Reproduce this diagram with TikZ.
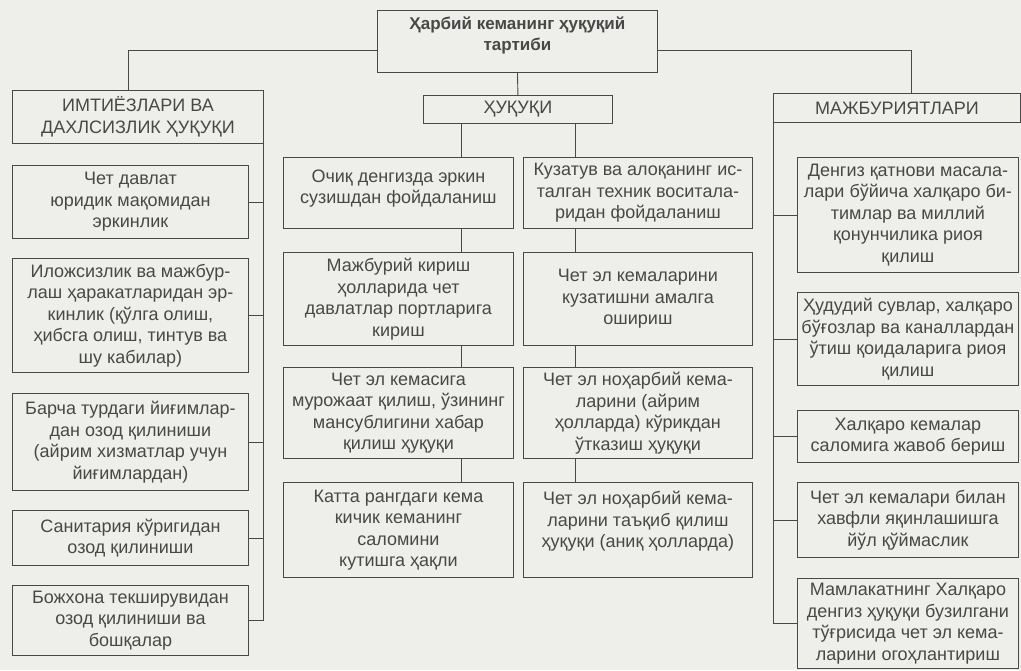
\documentclass[tikz,border=0pt]{standalone}
\usepackage{fontspec}
\setmainfont{Liberation Sans}
\usetikzlibrary{positioning}
\definecolor{inkgray}{RGB}{72,72,72}
\definecolor{paper}{RGB}{238,238,235}

\begin{document}
\begin{tikzpicture}[x=1pt, y=-1pt, line width=0.9pt, color=inkgray,
  every node/.style={font=\fontsize{18}{21.5}\selectfont},
  cell/.style 2 args={draw, align=center, anchor=north west, inner xsep=1pt, inner ysep=2pt,
    minimum width=#1pt, minimum height=#2pt}]
\fill[paper] (0,0) rectangle (1021,670);
\useasboundingbox (0,0) rectangle (1021,670);

% top of the tree
\node[cell={280}{62}, text depth=16pt, font=\fontsize{17}{21.5}\selectfont\bfseries] (title) at (377,10) {Ҳарбий кеманинг ҳуқуқий\\тартиби};
\node[cell={251}{53}] (imt) at (12,90) {ИМТИЁЗЛАРИ ВА\\ДАХЛСИЗЛИК ҲУҚУҚИ};
\node[cell={189}{28}] (hq) at (423,95) {ҲУҚУҚИ};
\node[cell={247}{29}] (maj) at (773,93) {МАЖБУРИЯТЛАРИ};

% left column
\node[cell={236}{73}] (l1) at (12,165) {Чет давлат\\юридик мақомидан\\эркинлик};
\node[cell={236}{114}] (l2) at (12,258) {Иложсизлик ва мажбур-\\лаш ҳаракатларидан эр-\\кинлик (қўлга олиш,\\ҳибсга олиш, тинтув ва\\шу кабилар)};
\node[cell={236}{97}] (l3) at (12,393) {Барча турдаги йиғимлар-\\дан озод қилиниши\\(айрим хизматлар учун\\йиғимлардан)};
\node[cell={236}{55}] (l4) at (12,510) {Санитария кўригидан\\озод қилиниши};
\node[cell={236}{70}] (l5) at (12,585) {Божхона текширувидан\\озод қилиниши ва\\бошқалар};

% middle columns
\node[cell={230}{71}, text depth=12pt] (m1) at (283,157) {Очиқ денгизда эркин\\сузишдан фойдаланиш};
\node[cell={230}{93}] (m2) at (283,252) {Мажбурий кириш\\ҳолларида чет\\давлатлар портларига\\кириш};
\node[cell={230}{91}] (m3) at (283,367) {Чет эл кемасига\\мурожаат қилиш, ўзининг\\мансублигини хабар\\қилиш ҳуқуқи};
\node[cell={230}{95}] (m4) at (283,482) {Катта рангдаги кема\\кичик кеманинг\\саломини\\кутишга ҳақли};
\node[cell={229}{71}] (n1) at (523,157) {Кузатув ва алоқанинг ис-\\талган техник воситала-\\ридан фойдаланиш};
\node[cell={229}{93}] (n2) at (523,252) {Чет эл кемаларини\\кузатишни амалга\\ошириш};
\node[cell={229}{91}] (n3) at (523,367) {Чет эл ноҳарбий кема-\\ларини (айрим\\ҳолларда) кўрикдан\\ўтказиш ҳуқуқи};
\node[cell={229}{95}, text depth=21pt] (n4) at (523,482) {Чет эл ноҳарбий кема-\\ларини таъқиб қилиш\\ҳуқуқи (аниқ ҳолларда)};

% right column
\node[cell={221}{115}] (r1) at (797,157) {Денгиз қатнови масала-\\лари бўйича халқаро би-\\тимлар ва миллий\\қонунчилика риоя\\қилиш};
\node[cell={221}{93}] (r2) at (797,292) {Ҳудудий сувлар, халқаро\\бўғозлар ва каналлардан\\ўтиш қоидаларига риоя\\қилиш};
\node[cell={221}{52}] (r3) at (797,410) {Халқаро кемалар\\саломига жавоб бериш};
\node[cell={221}{75}] (r4) at (797,482) {Чет эл кемалари билан\\хавфли яқинлашишга\\йўл қўймаслик};
\node[cell={221}{90}] (r5) at (797,578) {Мамлакатнинг Халқаро\\денгиз ҳуқуқи бузилгани\\тўғрисида чет эл кема-\\ларини огоҳлантириш};

% connectors
\draw ([yshift=-9pt]title.west) -| ([xshift=-10pt]imt.north);
\draw ([yshift=-9pt]title.east) -| ([xshift=14pt]maj.north);
\draw (title.south) -- (hq.north);
\coordinate (cl) at ([xshift=-57pt]hq.south);
\coordinate (cr) at ([xshift=57pt]hq.south);
\draw (cl) -- (cl |- m1.north);
\draw (cr) -- (cr |- n1.north);
\foreach \a/\b in {m1/m2, m2/m3, m3/m4}
  \draw (\a.south -| cl) -- (\b.north -| cl);
\foreach \a/\b in {n1/n2, n2/n3, n3/n4}
  \draw (\a.south -| cr) -- (\b.north -| cr);
\draw (imt.south east) |- (l5.east);
\foreach \n in {l1, l2, l3, l4}
  \draw (\n.east) -- (\n.east -| imt.south east);
\draw (maj.south west) |- (r5.west);
\foreach \n in {r1, r2, r3, r4}
  \draw (\n.west) -- (\n.west -| maj.south west);
\end{tikzpicture}
\end{document}
